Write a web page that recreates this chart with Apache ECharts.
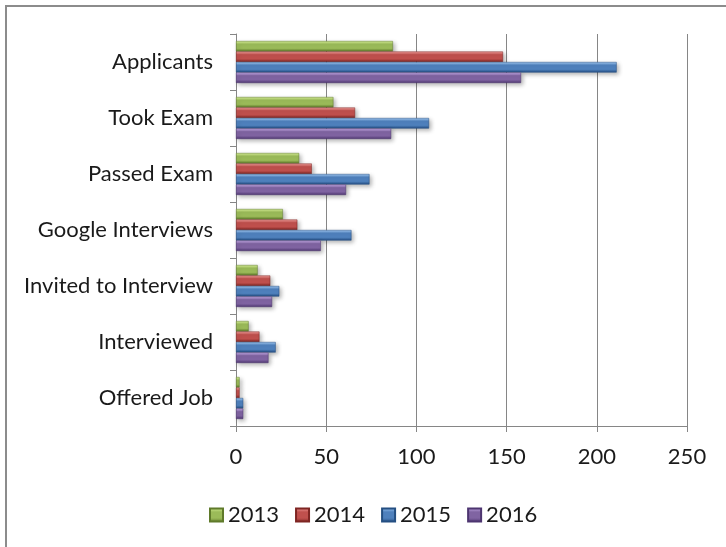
<!DOCTYPE html>
<html>
<head>
<meta charset="utf-8">
<script src="https://cdn.jsdelivr.net/npm/echarts@6/dist/echarts.min.js"></script>
<style>
  html, body { margin: 0; padding: 0; background: #fff; }
  #chart { width: 726px; height: 547px; }
</style>
</head>
<body>
<div id="chart"></div>
<script>
// data
const categories = ['Applicants', 'Took Exam', 'Passed Exam', 'Google Interviews',
  'Invited to Interview', 'Interviewed', 'Offered Job'];
const years = ['2013', '2014', '2015', '2016'];
const values2013 = [87, 54, 35, 26, 12, 7, 2];
const values2014 = [148, 66, 42, 34, 19, 13, 2];
const values2015 = [211, 107, 74, 64, 24, 22, 4];
const values2016 = [158, 86, 61, 47, 20, 18, 4];
const xTicks = [0, 50, 100, 150, 200, 250];

// light / mid / dark for the bevelled look
const colors = [
  ['#dcf59a', '#9bbb59', '#5f7a2a'],
  ['#f7a5a2', '#c0504d', '#7e2522'],
  ['#a8d0fa', '#4f81bd', '#244f82'],
  ['#cdb3ee', '#8064a2', '#4d3570'],
];

function bevel(c) {
  return new echarts.graphic.LinearGradient(0, 0, 0, 1, [
    { offset: 0, color: c[0] },
    { offset: 0.3, color: c[1] },
    { offset: 0.7, color: c[1] },
    { offset: 1, color: c[2] },
  ]);
}

const allValues = [values2013, values2014, values2015, values2016];
const font = 'Lato';

var chart = echarts.init(document.getElementById('chart'));
chart.setOption({
  backgroundColor: '#fff',
  animation: false,
  textStyle: { fontFamily: font },
  graphic: [{
    type: 'rect',
    shape: { x: 6, y: 6, width: 760, height: 600 },
    style: { fill: 'none', stroke: '#8c8c8c', lineWidth: 2 },
    silent: true,
  }],
  legend: {
    data: years,
    left: 204,
    top: 499,
    itemWidth: 13,
    itemHeight: 13,
    itemGap: 16,
    icon: 'rect',
    textStyle: { fontSize: 22, color: '#1a1a1a', fontFamily: font },
  },
  grid: { left: 236, right: 39, top: 34, bottom: 121 },
  xAxis: {
    type: 'value',
    min: 0,
    max: 250,
    interval: 50,
    axisLine: { show: true, lineStyle: { color: '#868686' } },
    axisTick: { show: true, length: 6, lineStyle: { color: '#868686' } },
    splitLine: { show: true, lineStyle: { color: '#868686' } },
    axisLabel: {
      margin: 20,
      fontSize: 22,
      color: '#1a1a1a',
      formatter: v => (xTicks.indexOf(v) >= 0 ? String(v) : ''),
    },
  },
  yAxis: {
    type: 'category',
    data: categories,
    inverse: true,
    axisLine: { show: true, lineStyle: { color: '#868686' } },
    axisTick: { show: true, length: 6, lineStyle: { color: '#868686' } },
    axisLabel: { margin: 23, fontSize: 22, color: '#1a1a1a' },
  },
  series: years.map((y, i) => ({
    name: y,
    type: 'bar',
    data: allValues[i],
    barWidth: 10.5,
    barGap: '0%',
    itemStyle: {
      color: bevel(colors[i]),
      borderColor: colors[i][2],
      borderWidth: 0.5,
      shadowBlur: 4,
      shadowOffsetX: 2,
      shadowOffsetY: 2,
      shadowColor: 'rgba(0,0,0,0.3)',
    },
  })),
});
</script>
</body>
</html>
